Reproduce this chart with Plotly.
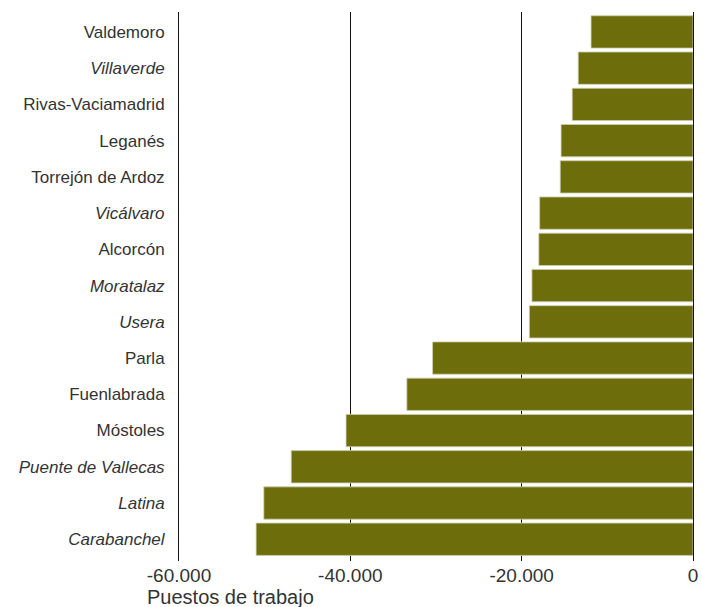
import plotly.graph_objects as go

places = ["Valdemoro", "Villaverde", "Rivas-Vaciamadrid", "Leganés", "Torrejón de Ardoz",
          "Vicálvaro", "Alcorcón", "Moratalaz", "Usera", "Parla", "Fuenlabrada",
          "Móstoles", "Puente de Vallecas", "Latina", "Carabanchel"]
is_district = [False, True, False, False, False, True, False, True, True, False, False,
               False, True, True, True]
jobs_change = [-11900, -13400, -14100, -15400, -15500, -17900, -18000, -18800, -19100,
               -30400, -33400, -40500, -46900, -50100, -51000]
x_tickvals = [-60000, -40000, -20000, 0]
x_ticktext = ["-60.000", "-40.000", "-20.000", "0"]
axis_title = "Puestos de trabajo"

label_text = [f"<i>{p}</i>" if d else p for p, d in zip(places, is_district)]

fig = go.Figure(go.Bar(
    x=jobs_change, y=places, orientation="h",
    marker=dict(color="#6d6d0b", line=dict(color="#cfcfae", width=0.8)),
    hoverinfo="x+y",
))

fig.update_layout(
    width=702, height=607,
    margin=dict(l=178.5, r=8.7, t=12.3, b=46.3, autoexpand=False),
    paper_bgcolor="white", plot_bgcolor="white",
    font=dict(family="Liberation Sans, Arial, sans-serif", color="#333333"),
    bargap=0.108,
    showlegend=False,
    xaxis=dict(
        range=[-60000, 0], tickmode="array", tickvals=x_tickvals, ticktext=x_ticktext,
        showgrid=True, gridcolor="#111111", gridwidth=1, zeroline=False,
        showline=False, ticks="", tickfont=dict(size=19, color="#333333"),
        layer="above traces", ticklabelstandoff=1, automargin=False,
    ),
    yaxis=dict(
        type="category", categoryorder="array", categoryarray=places,
        range=[14.6, -0.55], tickmode="array", tickvals=places, ticktext=label_text,
        showgrid=False, zeroline=False, showline=True, mirror=True,
        linecolor="#111111", linewidth=1, ticks="",
        tickfont=dict(size=17, color="#333333"), ticklabelstandoff=10,
        layer="above traces", automargin=False,
    ),
    annotations=[dict(
        text=axis_title, xref="paper", yref="paper", x=-0.067, y=-0.066,
        xanchor="left", yanchor="middle", showarrow=False,
        font=dict(size=20, color="#333333"),
    )],
)

# remove the browser's default 8px page margin so the figure fills the window exactly
fig.write_html(
    "out.html",
    config={"displayModeBar": False},
    post_script="document.body.style.margin='0';document.body.style.overflow='hidden';",
)
